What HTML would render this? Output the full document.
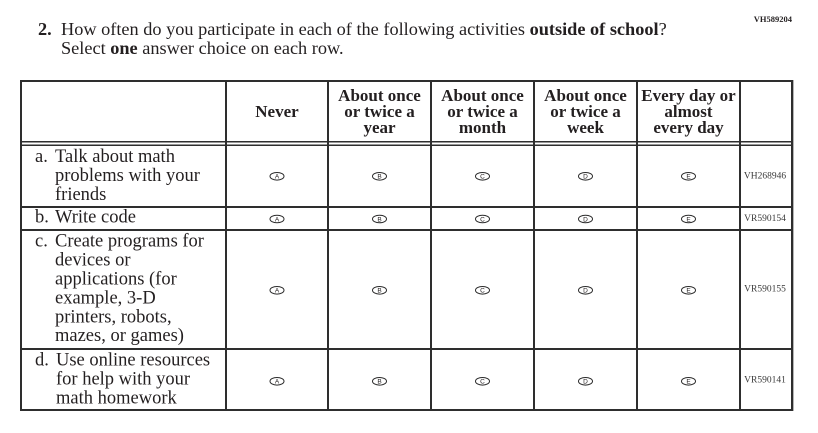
<!DOCTYPE html>
<html><head><meta charset="utf-8"><style>
html,body{margin:0;padding:0;background:#fff;}
svg{display:block;}
.t{font-family:"Liberation Serif",serif;fill:#231f20;}
.b{font-weight:bold;}
.code{font-family:"Liberation Serif",serif;font-size:9.5px;fill:#3a3a3a;}
.bl{font-family:"Liberation Sans",sans-serif;font-size:6.5px;fill:#231f20;text-anchor:middle;}
</style></head><body>
<svg width="818" height="433" viewBox="0 0 818 433" xmlns="http://www.w3.org/2000/svg">
<rect width="818" height="433" fill="#fff"/>
<!-- top code -->
<text class="t b" x="792" y="22" font-size="8.5" text-anchor="end" fill="#333">VH589204</text>
<!-- title -->
<text class="t b" x="38" y="35" font-size="18.3">2.</text>
<text class="t" x="61" y="35" font-size="18.3">How often do you participate in each of the following activities <tspan class="b">outside of school</tspan>?</text>
<text class="t" x="61" y="54" font-size="18.3">Select <tspan class="b">one</tspan> answer choice on each row.</text>

<!-- table lines -->
<g fill="#2e2e2e">
<rect x="20" y="80" width="773" height="2"/>
<rect x="20" y="80" width="2" height="331"/>
<rect x="791" y="80" width="2" height="331"/>
<rect x="20" y="409" width="773" height="2"/>
<rect x="20" y="141" width="773" height="1.5"/>
<rect x="20" y="144.5" width="773" height="1.5"/>
<rect x="20" y="206" width="773" height="2"/>
<rect x="20" y="229" width="773" height="2"/>
<rect x="20" y="348" width="773" height="2"/>
<rect x="225" y="80" width="2" height="331"/>
<rect x="327" y="80" width="2" height="331"/>
<rect x="430" y="80" width="2" height="331"/>
<rect x="533" y="80" width="2" height="331"/>
<rect x="636" y="80" width="2" height="331"/>
<rect x="739" y="80" width="2" height="331"/>
</g>
<rect x="793" y="80" width="1" height="331" fill="#b5b5b5"/>

<!-- header -->
<g class="t b" font-size="17" text-anchor="middle">
<text x="277" y="117">Never</text>
<text x="379.5" y="101">About once</text>
<text x="379.5" y="117">or twice a</text>
<text x="379.5" y="133">year</text>
<text x="482.5" y="101">About once</text>
<text x="482.5" y="117">or twice a</text>
<text x="482.5" y="133">month</text>
<text x="585.5" y="101">About once</text>
<text x="585.5" y="117">or twice a</text>
<text x="585.5" y="133">week</text>
<text x="688.5" y="101">Every day or</text>
<text x="688.5" y="117">almost</text>
<text x="688.5" y="133">every day</text>
</g>

<!-- row labels -->
<g class="t" font-size="18.5">
<text x="35" y="162">a.</text>
<text x="55" y="162">Talk about math</text>
<text x="55" y="181">problems with your</text>
<text x="55" y="200">friends</text>
<text x="35" y="222.7">b.</text>
<text x="55" y="222.7">Write code</text>
<text x="35" y="246.7">c.</text>
<text x="55" y="246.7">Create programs for</text>
<text x="55" y="265.6">devices or</text>
<text x="55" y="284.5">applications (for</text>
<text x="55" y="303.4">example, 3-D</text>
<text x="55" y="322.3">printers, robots,</text>
<text x="55" y="341.2">mazes, or games)</text>
<text x="35" y="365.7">d.</text>
<text x="56" y="365.7">Use online resources</text>
<text x="56" y="384.7">for help with your</text>
<text x="56" y="403.7">math homework</text>
</g>

<!-- codes -->
<g class="code" text-anchor="middle">
<text x="765" y="178.5">VH268946</text>
<text x="765" y="221">VR590154</text>
<text x="765" y="291.7">VR590155</text>
<text x="765" y="382.3">VR590141</text>
</g>

<!-- bubbles -->
<g fill="none" stroke="#2a2a2a" stroke-width="1">
<ellipse cx="277" cy="176.3" rx="7" ry="3.8"/><ellipse cx="379.5" cy="176.3" rx="7" ry="3.8"/><ellipse cx="482.5" cy="176.3" rx="7" ry="3.8"/><ellipse cx="585.5" cy="176.3" rx="7" ry="3.8"/><ellipse cx="688.5" cy="176.3" rx="7" ry="3.8"/>
<ellipse cx="277" cy="219" rx="7" ry="3.8"/><ellipse cx="379.5" cy="219" rx="7" ry="3.8"/><ellipse cx="482.5" cy="219" rx="7" ry="3.8"/><ellipse cx="585.5" cy="219" rx="7" ry="3.8"/><ellipse cx="688.5" cy="219" rx="7" ry="3.8"/>
<ellipse cx="277" cy="290.3" rx="7" ry="3.8"/><ellipse cx="379.5" cy="290.3" rx="7" ry="3.8"/><ellipse cx="482.5" cy="290.3" rx="7" ry="3.8"/><ellipse cx="585.5" cy="290.3" rx="7" ry="3.8"/><ellipse cx="688.5" cy="290.3" rx="7" ry="3.8"/>
<ellipse cx="277" cy="381.3" rx="7" ry="3.8"/><ellipse cx="379.5" cy="381.3" rx="7" ry="3.8"/><ellipse cx="482.5" cy="381.3" rx="7" ry="3.8"/><ellipse cx="585.5" cy="381.3" rx="7" ry="3.8"/><ellipse cx="688.5" cy="381.3" rx="7" ry="3.8"/>
</g>
<g class="bl">
<text x="277" y="178.6">A</text><text x="379.5" y="178.6">B</text><text x="482.5" y="178.6">C</text><text x="585.5" y="178.6">D</text><text x="688.5" y="178.6">E</text>
<text x="277" y="221.3">A</text><text x="379.5" y="221.3">B</text><text x="482.5" y="221.3">C</text><text x="585.5" y="221.3">D</text><text x="688.5" y="221.3">E</text>
<text x="277" y="292.6">A</text><text x="379.5" y="292.6">B</text><text x="482.5" y="292.6">C</text><text x="585.5" y="292.6">D</text><text x="688.5" y="292.6">E</text>
<text x="277" y="383.6">A</text><text x="379.5" y="383.6">B</text><text x="482.5" y="383.6">C</text><text x="585.5" y="383.6">D</text><text x="688.5" y="383.6">E</text>
</g>
</svg>
</body></html>
